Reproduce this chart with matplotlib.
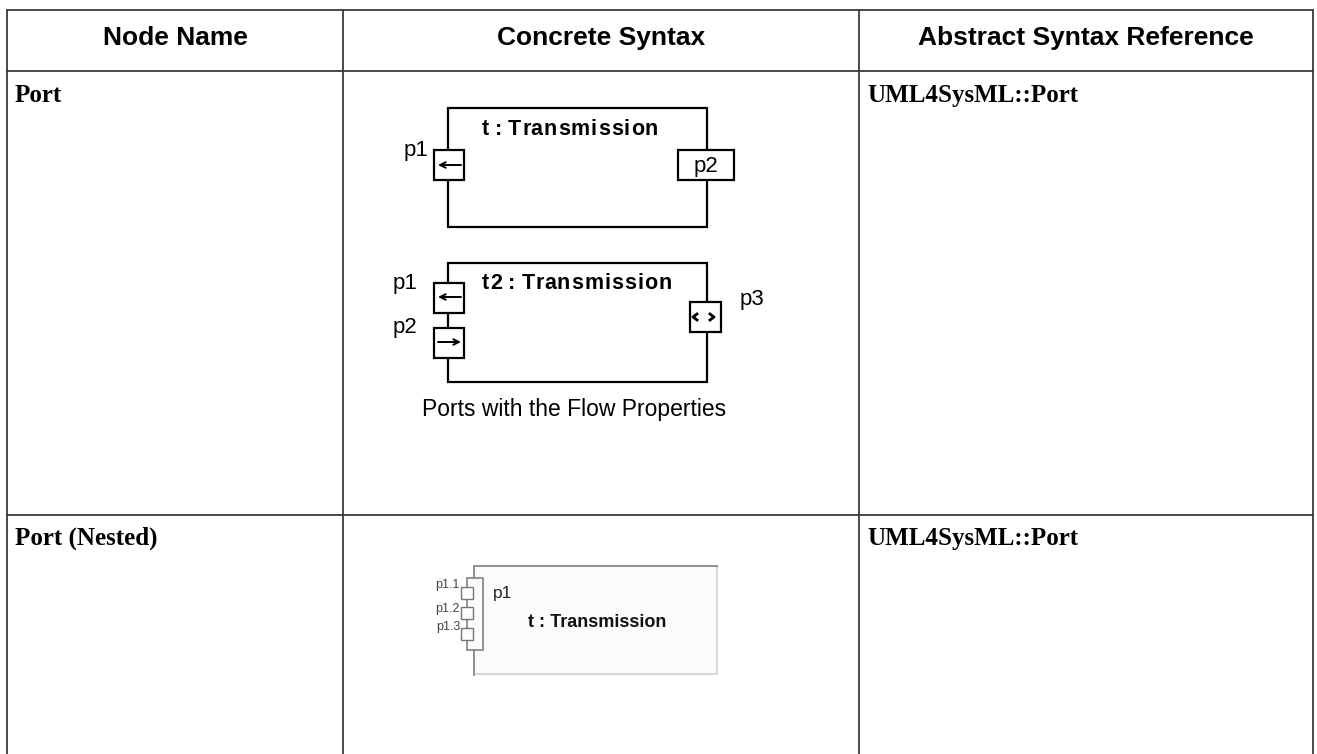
import matplotlib.pyplot as plt
import matplotlib.patches as mpatches
from matplotlib.font_manager import FontProperties

# table content
headers = ["Node Name", "Concrete Syntax", "Abstract Syntax Reference"]
node_names = ["Port", "Port (Nested)"]
abstract_refs = ["UML4SysML::Port", "UML4SysML::Port"]

# diagram texts
d1_title = "t : Transmission"
d1_ports = ["p1", "p2"]
d2_title = "t2 : Transmission"
d2_ports = ["p1", "p2", "p3"]
d2_caption = "Ports with the Flow Properties"
d3_title = "t : Transmission"
d3_port = "p1"
d3_nested = ["p1.1", "p1.2", "p1.3"]

# layout (pixels)
col_edges = [7, 343, 859, 1313]
row_edges = [10, 71, 515]
bottom = 754
header_base = 45
row_base = [102, 545]

W, H = 1317, 754
fig = plt.figure(figsize=(W / 100, H / 100), dpi=100)
ax = fig.add_axes([0, 0, 1, 1])
ax.set_xlim(0, W)
ax.set_ylim(H, 0)
ax.axis("off")

SANS = "Liberation Sans"
SERIF = "Liberation Serif"
renderer = fig.canvas.get_renderer()

# grid
for x in col_edges:
    ax.plot([x, x], [row_edges[0], bottom], color="#3a3a3a", lw=1.3)
for y in row_edges:
    ax.plot([col_edges[0], col_edges[-1]], [y, y], color="#3a3a3a", lw=1.3)

for i, h in enumerate(headers):
    cx = (col_edges[i] + col_edges[i + 1]) / 2
    ax.text(cx, header_base, h, ha="center", va="baseline",
            fontsize=19, fontweight="bold", family=SANS)

for name, ref, yb in zip(node_names, abstract_refs, row_base):
    ax.text(col_edges[0] + 8, yb, name, ha="left", va="baseline",
            fontsize=18, fontweight="bold", family=SERIF)
    ax.text(col_edges[2] + 8, yb, ref, ha="left", va="baseline",
            fontsize=18, fontweight="bold", family=SERIF)


def rect(x0, y0, x1, y1, ec="black", fc="white", lw=1.6):
    ax.add_patch(mpatches.Rectangle((x0, y0), x1 - x0, y1 - y0,
                                    ec=ec, fc=fc, lw=lw, zorder=3))


def arrow(x0, x1, y):
    ax.annotate("", xy=(x1, y), xytext=(x0, y), zorder=4,
                arrowprops=dict(arrowstyle="->", lw=1.4, color="black",
                                mutation_scale=10, shrinkA=0, shrinkB=0))


def text_w(s, fp):
    w, _, _ = renderer.get_text_width_height_descent(s, fp, ismath=False)
    return w


def tracked(cx, yb, s, size, spacing, space_cut=2.0, color="black"):
    # letter-spaced bold title, like the diagram tool renders it
    fp = FontProperties(family=SANS, weight="bold", size=size)
    bar = text_w("|", fp)
    lefts = []
    for i in range(len(s)):
        cut = space_cut * s[:i].count(" ")
        lefts.append(text_w(s[:i] + "|", fp) - bar + i * spacing - cut)
    total = lefts[-1] + text_w(s[-1], fp)
    x0 = cx - total / 2
    for ch, lx in zip(s, lefts):
        if ch != " ":
            ax.text(x0 + lx, yb, ch, ha="left", va="baseline",
                    fontproperties=fp, color=color, zorder=5)


# diagram 1
rect(448, 108, 707, 227)
tracked(570, 135, d1_title, 15.5, 1.0)
rect(434, 150, 464, 180)
arrow(461, 438, 165)
ax.text(404, 156, d1_ports[0], ha="left", va="baseline", fontsize=16,
        family=SANS)
rect(678, 150, 734, 180)
ax.text(706, 172, d1_ports[1], ha="center", va="baseline", fontsize=16,
        family=SANS, zorder=5)

# diagram 2
rect(448, 263, 707, 382)
tracked(577, 289, d2_title, 15.5, 1.0)
rect(434, 283, 464, 313)
arrow(461, 438, 297)
rect(434, 328, 464, 358)
arrow(438, 461, 342)
rect(690, 302, 721, 332)
cy = 317
ax.plot([697, 693, 697], [cy - 3, cy, cy + 3], color="black", lw=2,
        zorder=4)
ax.plot([710, 714, 710], [cy - 3, cy, cy + 3], color="black", lw=2,
        zorder=4)
ax.text(393, 289, d2_ports[0], ha="left", va="baseline", fontsize=16,
        family=SANS)
ax.text(393, 333, d2_ports[1], ha="left", va="baseline", fontsize=16,
        family=SANS)
ax.text(740, 305, d2_ports[2], ha="left", va="baseline", fontsize=16,
        family=SANS)
ax.text(574, 416, d2_caption, ha="center", va="baseline", fontsize=16.5,
        family=SANS)

# diagram 3 (nested ports)
ax.add_patch(mpatches.Rectangle((474, 566), 717 - 474, 674 - 566,
                                ec="#d0d0d0", fc="#fbfbfb", lw=1.2,
                                zorder=2))
ax.plot([717, 474, 474], [566, 566, 675], color="#8a8a8a", lw=1.3,
        zorder=3)
rect(467, 578, 483, 650, ec="#777777", fc="#fbfbfb", lw=1.1)
sq_tops = [587, 607, 628]
label_base = [588, 612, 630]
for top, yb, lab in zip(sq_tops, label_base, d3_nested):
    rect(461, top, 473, top + 12, ec="#777777", fc="#fbfbfb", lw=1.0)
    ax.text(460, yb, lab, ha="right", va="baseline", fontsize=9,
            family=SANS, color="#444444")
ax.text(493, 598, d3_port, ha="left", va="baseline", fontsize=12.5,
        family=SANS, color="#222222")
ax.text(597, 627, d3_title, ha="center", va="baseline", fontsize=13,
        fontweight="bold", family=SANS, color="#111111")

fig.savefig("out.png", dpi=100)
